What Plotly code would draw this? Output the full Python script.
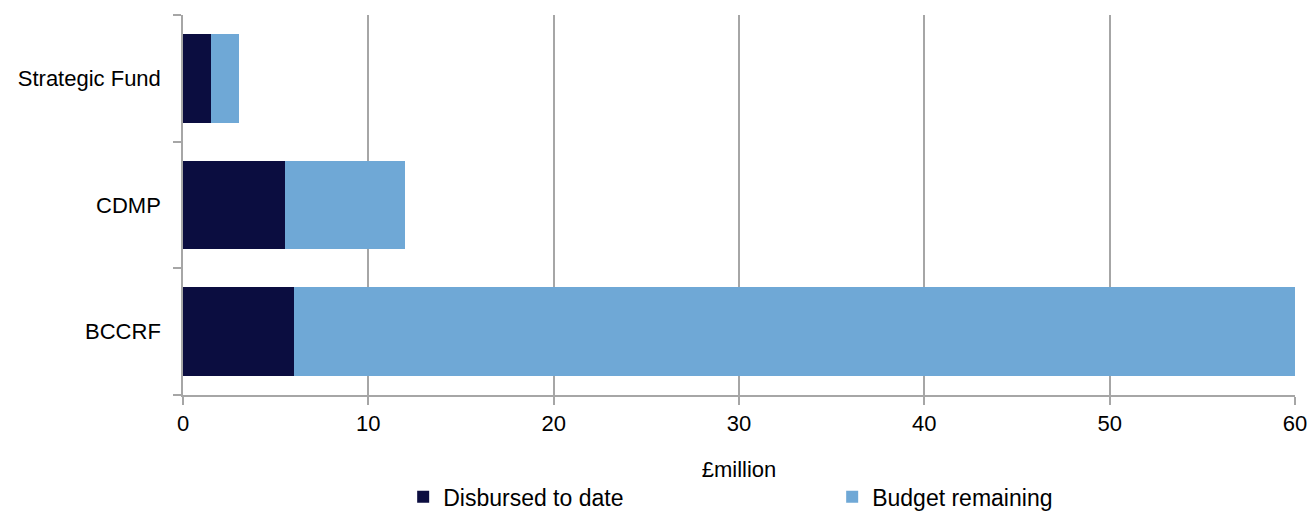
import plotly.graph_objects as go

categories = ["BCCRF", "CDMP", "Strategic Fund"]
disbursed = [6.0, 5.5, 1.5]
remaining = [54.0, 6.5, 1.5]
x_ticks = [0, 10, 20, 30, 40, 50, 60]

DARK = "#0b0d40"
LIGHT = "#6fa8d6"
GRID = "#a6a6a6"
FONT = "Liberation Sans, Arial, sans-serif"
FS = 22

fig = go.Figure()
fig.add_trace(go.Bar(y=categories, x=disbursed, orientation="h", name="Disbursed to date",
                     marker=dict(color=DARK, line=dict(width=0))))
fig.add_trace(go.Bar(y=categories, x=remaining, orientation="h", name="Budget remaining",
                     marker=dict(color=LIGHT, line=dict(width=0))))

fig.update_layout(
    width=1309, height=513,
    barmode="stack", bargap=0.3,
    plot_bgcolor="white", paper_bgcolor="white",
    margin=dict(l=183, r=14, t=15, b=118, autoexpand=False),
    font=dict(family=FONT, size=FS, color="black"),
    showlegend=True,
    legend=dict(orientation="h", x=0.198, xanchor="left", y=-0.268, yanchor="middle",
                entrywidth=384, entrywidthmode="pixels", traceorder="normal",
                font=dict(size=23), itemwidth=30, tracegroupgap=0),
)
fig.update_xaxes(range=[0, 60], tickvals=x_ticks, showgrid=True, gridcolor=GRID, gridwidth=1.5,
                 showline=True, linecolor=GRID, linewidth=1.5, ticks="outside", ticklen=8,
                 tickcolor=GRID, tickwidth=1.5, zeroline=False, automargin=False,
                 title=dict(text="£million", font=dict(size=FS), standoff=26))
fig.update_yaxes(showline=True, linecolor=GRID, linewidth=1.5, ticks="outside", ticklen=8,
                 tickcolor=GRID, tickwidth=1.5, tickson="boundaries", showgrid=False,
                 ticklabelstandoff=16, automargin=False)

fig.write_html("out.html", config={"displayModeBar": False},
               post_script="document.body.style.margin='0';document.body.style.overflow='hidden';")
